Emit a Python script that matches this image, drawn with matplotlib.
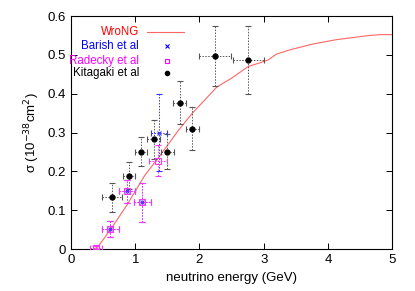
import numpy as np
import matplotlib
matplotlib.use('Agg')
import matplotlib.pyplot as plt

plt.rcParams['font.family'] = ['Liberation Sans', 'DejaVu Sans']

# WroNG prediction
wrong_e = [0.36, 0.42, 0.61, 0.87, 1.15, 1.36, 1.67, 1.89, 2.27, 2.50, 2.76, 2.95, 3.07,
           3.20, 3.41, 3.77, 4.13, 4.60, 4.80, 5.00]
wrong_s = [0.0, 0.006, 0.049, 0.113, 0.19, 0.235, 0.305, 0.35, 0.417, 0.44, 0.47, 0.48,
           0.487, 0.502, 0.513, 0.528, 0.539, 0.549, 0.552, 0.552]

# Barish et al
bar_e = [0.61, 0.87, 1.11, 1.37]
bar_s = [0.052, 0.149, 0.121, 0.30]
bar_ex = [0.13, 0.12, 0.13, 0.12]
bar_es = [0.02, 0.03, 0.05, 0.10]

# Radecky et al
rad_e = [0.39, 0.61, 0.87, 1.11, 1.36]
rad_s = [0.004, 0.052, 0.149, 0.121, 0.228]
rad_ex = [0.10, 0.13, 0.12, 0.13, 0.14]
rad_es = [0.004, 0.02, 0.03, 0.05, 0.04]

# Kitagaki et al
kit_e = [0.64, 0.90, 1.09, 1.29, 1.50, 1.69, 1.89, 2.24, 2.76]
kit_s = [0.133, 0.189, 0.251, 0.283, 0.251, 0.377, 0.31, 0.497, 0.486]
kit_ex = [0.15, 0.09, 0.10, 0.10, 0.10, 0.10, 0.10, 0.25, 0.24]
kit_es = [0.037, 0.035, 0.038, 0.05, 0.045, 0.055, 0.055, 0.077, 0.088]

labels = ['WroNG', 'Barish et al', 'Radecky et al', 'Kitagaki et al']
colors = ['red', '#0000ff', '#ff00ff', 'black']

fig = plt.figure(figsize=(4.15, 2.91), dpi=100)
ax = fig.add_axes([0.171, 0.144, 0.774, 0.801])


def errs(x, y, xe, ye, color, marker, ms):
    line, caps, bars = ax.errorbar(x, y, xerr=xe, yerr=ye, fmt=marker, color=color,
                                   ms=ms, mfc='none', mew=0.8, ecolor=color, elinewidth=0.7,
                                   capsize=2, capthick=0.7, zorder=3)
    for b in bars:
        b.set_linestyle((0, (1.5, 1.5)))


errs(kit_e, kit_s, kit_ex, kit_es, '#555555', 'none', 3.5)
ax.plot(kit_e, kit_s, 'o', color='black', ms=3.5, zorder=4)
errs(bar_e, bar_s, bar_ex, bar_es, '#3333ff', 'x', 3.5)
errs(rad_e, rad_s, rad_ex, rad_es, '#ff33ff', 's', 4)
ax.plot(wrong_e, wrong_s, color='#ff6666', lw=0.8, zorder=2)

# legend, gnuplot style: right-aligned text, sample to the right
fs = 8.3
ys = [0.5585, 0.524, 0.485, 0.453]
for lab, col, yy in zip(labels, colors, ys):
    ax.text(1.06, yy, lab, color=col, ha='right', va='center', fontsize=fs)
ax.plot([1.19, 1.76], [ys[0], ys[0]], color='#ff6666', lw=0.8)
ax.plot([1.495], [ys[1]], 'x', color='#0000ff', ms=3, mew=0.8)
ax.plot([1.495], [ys[2]], 's', color='#ff00ff', mfc='none', ms=3.5, mew=0.8)
ax.plot([1.495], [ys[3]], 'o', color='black', ms=3)

ax.set_xlim(0, 5)
ax.set_ylim(0, 0.6)
ax.set_xticks([0, 1, 2, 3, 4, 5])
ax.set_yticks([0, 0.1, 0.2, 0.3, 0.4, 0.5, 0.6])
ax.set_yticklabels(['0', '0.1', '0.2', '0.3', '0.4', '0.5', '0.6'])
ax.tick_params(direction='in', top=True, right=True, labelsize=9.5, length=4, width=0.7)
for s in ax.spines.values():
    s.set_linewidth(0.8)
ax.set_xlabel('neutrino energy (GeV)', fontsize=9.5)
ax.set_ylabel('σ (10$^{-38}$cm$^2$)', fontsize=9.5)

fig.savefig('out.png', dpi=100)
